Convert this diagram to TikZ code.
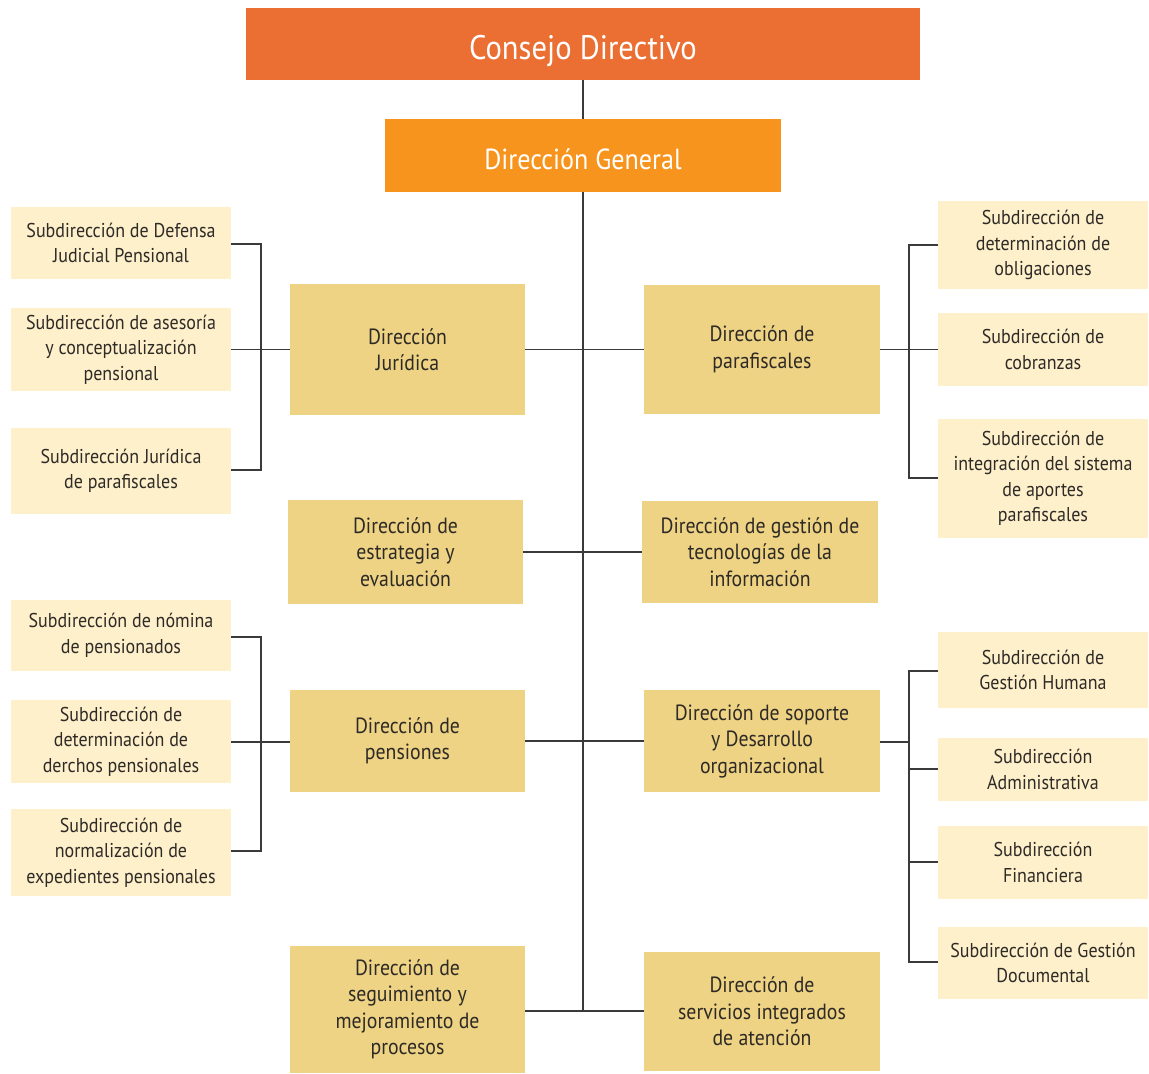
\documentclass[tikz,border=0pt]{standalone}
\usepackage{fontspec}
\setmainfont{PT Sans}[FakeStretch=0.9]
\definecolor{cdcol}{HTML}{EB6E32}
\definecolor{dgcol}{HTML}{F7941E}
\definecolor{dircol}{HTML}{EED384}
\definecolor{subcol}{HTML}{FEF0CB}
\definecolor{txtcol}{HTML}{2E2A26}
\definecolor{lncol}{HTML}{3A3A3A}
\begin{document}
\begin{tikzpicture}[x=1pt,y=-1pt,
  box/.style={inner sep=0pt,outer sep=0pt,align=center,text=txtcol},
  topbox/.style={box,text=white},
  dirbox/.style={box,fill=dircol,font=\fontsize{22}{26.5}\selectfont},
  subbox/.style={box,fill=subcol,font=\fontsize{20}{25.5}\selectfont},
  conn/.style={draw=lncol,line width=1.6pt}]
\useasboundingbox (0,0) rectangle (1149,1074);
% helper macro to place a box by its corners
\newcommand{\bx}[6]{\node[#1,minimum width={#4-#2},minimum height={#5-#3}] (#6) at ({(#2+#4)/2},{(#3+#5)/2})}
% top
\bx{topbox,fill=cdcol,font=\fontsize{34}{38}\selectfont,text height=30pt,text depth=0pt}{246}{8}{920}{80}{cd} {Consejo Directivo};
\bx{topbox,fill=dgcol,font=\fontsize{29}{33}\selectfont,text height=28pt,text depth=0pt}{385}{119}{781}{192}{dg} {Dirección General};
% left directions
\bx{dirbox}{290}{284}{525}{415}{dj} {Dirección\\Jurídica};
\bx{dirbox}{288}{500}{523}{604}{de} {Dirección de\\estrategia y\\evaluación};
\bx{dirbox}{290}{690}{525}{792}{dpn} {Dirección de\\pensiones};
\bx{dirbox}{290}{946}{525}{1073}{dsg} {Dirección de\\seguimiento y\\mejoramiento de\\procesos};
% right directions
\bx{dirbox}{644}{285}{880}{414}{dpf} {Dirección de\\parafiscales};
\bx{dirbox}{642}{501}{878}{603}{dt} {Dirección de gestión de\\tecnologías de la\\información};
\bx{dirbox}{644}{690}{880}{792}{dso} {Dirección de soporte\\y Desarrollo\\organizacional};
\bx{dirbox}{644}{952}{880}{1071}{dsi} {Dirección de\\servicios integrados\\de atención};
% left subs
\bx{subbox}{11}{207}{231}{279}{l1} {Subdirección de Defensa\\Judicial Pensional};
\bx{subbox}{11}{308}{231}{391}{l2} {Subdirección de asesoría\\y conceptualización\\pensional};
\bx{subbox}{11}{428}{231}{514}{l3} {Subdirección Jurídica\\de parafiscales};
\bx{subbox}{11}{600}{231}{671}{l4} {Subdirección de nómina\\de pensionados};
\bx{subbox}{11}{700}{231}{783}{l5} {Subdirección de\\determinación de\\derchos pensionales};
\bx{subbox}{11}{809}{231}{896}{l6} {Subdirección de\\normalización de\\expedientes pensionales};
% right subs
\bx{subbox}{938}{201}{1148}{289}{r1} {Subdirección de\\determinación de\\obligaciones};
\bx{subbox}{938}{313}{1148}{386}{r2} {Subdirección de\\cobranzas};
\bx{subbox}{938}{419}{1148}{538}{r3} {Subdirección de\\integración del sistema\\de aportes\\parafiscales};
\bx{subbox}{938}{632}{1148}{708}{r4} {Subdirección de\\Gestión Humana};
\bx{subbox}{938}{738}{1148}{801}{r5} {Subdirección\\Administrativa};
\bx{subbox}{938}{826}{1148}{899}{r6} {Subdirección\\Financiera};
\bx{subbox}{938}{927}{1148}{999}{r7} {Subdirección de Gestión\\Documental};
% trunk
\coordinate (tb) at (583,1011);
\draw[conn] (cd.south) -- (dg.north);
\draw[conn] (dg.south) -- (tb);
\draw[conn] (dj.east) -- (dpf.west);
\draw[conn] (de.east |- 0,552) -- (dt.west |- 0,552);
\draw[conn] (dpn.east) -- (dso.west);
\draw[conn] (dsg.east |- 0,1011) -- (dsi.west |- 0,1011);
% left brackets
\draw[conn] (l1.east |- 0,244) -- (261,244) -- (261,470) -- (l3.east |- 0,470);
\draw[conn] (l2.east) -- (dj.west);
\draw[conn] (l4.east |- 0,637) -- (261,637) -- (261,851) -- (l6.east |- 0,851);
\draw[conn] (l5.east |- 0,742) -- (dpn.west |- 0,742);
% right brackets
\draw[conn] (r1.west |- 0,245) -- (909,245) -- (909,478) -- (r3.west |- 0,478);
\draw[conn] (dpf.east) -- (r2.west);
\draw[conn] (r4.west |- 0,671) -- (909,671) -- (909,962) -- (r7.west |- 0,962);
\draw[conn] (r5.west |- 0,769) -- (909,769);
\draw[conn] (r6.west |- 0,862) -- (909,862);
\draw[conn] (dso.east |- 0,742) -- (909,742);
\end{tikzpicture}
\end{document}
